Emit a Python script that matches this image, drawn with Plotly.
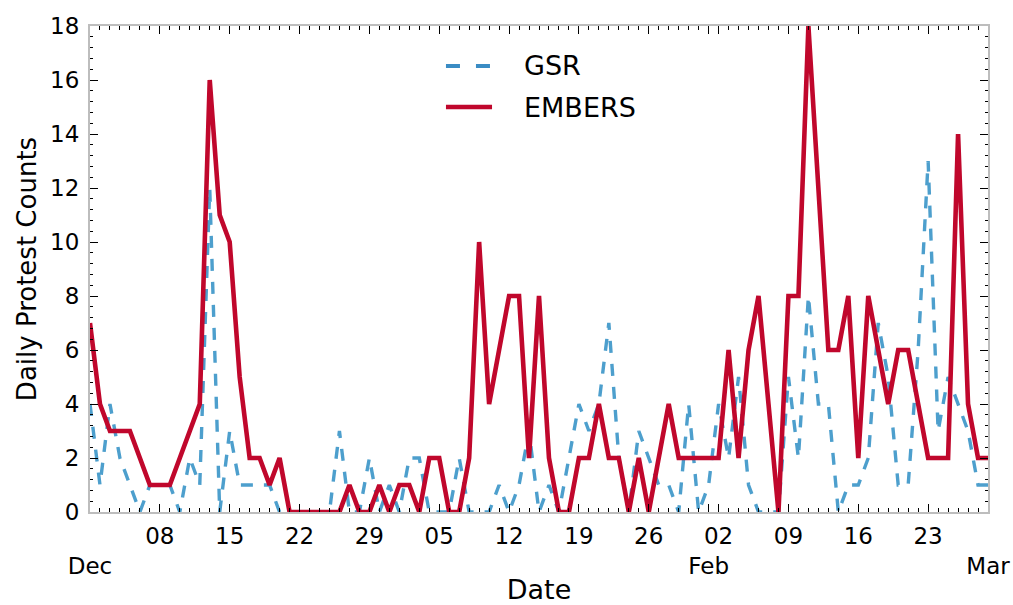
import pandas as pd
import plotly.graph_objects as go

dates = pd.date_range("2013-12-01", "2014-03-01", freq="D")

gsr = [4, 1, 4, 2, 1, 0, 1, 1, 1, 0, 2, 1, 12, 0, 3, 1, 1, 1, 1, 0,
       0, 0, 0, 0, 0, 3, 0, 0, 2, 0, 1, 0, 2, 2, 0, 0, 0, 2, 0, 0,
       0, 1, 0, 1, 3, 0, 1, 0, 2, 4, 3, 4, 7, 2, 0, 3, 2, 1, 1, 0,
       4, 0, 1, 4, 2, 5, 1, 0, 0, 0, 5, 2, 8, 4, 4, 0, 1, 1, 2, 7,
       5, 1, 1, 6, 13, 3, 5, 4, 3, 1, 1]

embers = [7, 4, 3, 3, 3, 2, 1, 1, 1, 2, 3, 4, 16, 11, 10, 5, 2, 2, 1, 2,
          0, 0, 0, 0, 0, 0, 1, 0, 0, 1, 0, 1, 1, 0, 2, 2, 0, 0, 2, 10,
          4, 6, 8, 8, 2, 8, 2, 0, 0, 2, 2, 4, 2, 2, 0, 2, 0, 2, 4, 2,
          2, 2, 2, 2, 6, 2, 6, 8, 4, 0, 8, 8, 18, 12, 6, 6, 8, 2, 8, 6,
          4, 6, 6, 4, 2, 2, 2, 14, 4, 2, 2]

week_ticks = ["2013-12-08", "2013-12-15", "2013-12-22", "2013-12-29",
              "2014-01-05", "2014-01-12", "2014-01-19", "2014-01-26",
              "2014-02-02", "2014-02-09", "2014-02-16", "2014-02-23"]
week_labels = ["08", "15", "22", "29", "05", "12", "19", "26",
               "02", "09", "16", "23"]
month_ticks = ["2013-12-01", "2014-02-01", "2014-03-01"]
month_labels = ["Dec", "Feb", "Mar"]
y_ticks = [0, 2, 4, 6, 8, 10, 12, 14, 16, 18]
series_names = ["GSR", "EMBERS"]

FONT = "DejaVu Sans"
BLUE = "#4d9fcd"
RED = "#c0072c"
GSR_DASH = "12px,11px"

fig = go.Figure()
fig.add_trace(go.Scatter(x=dates, y=gsr, mode="lines", name=series_names[0],
                         line=dict(color=BLUE, width=3.4, dash=GSR_DASH)))
fig.add_trace(go.Scatter(x=dates, y=embers, mode="lines", name=series_names[1],
                         line=dict(color=RED, width=4.6)))

tickvals = month_ticks + week_ticks
ticktext = ["<br>" + m for m in month_labels] + week_labels

# legend drawn manually (matplotlib-like long handles)
leg_x0, leg_x1, leg_tx = 0.3964, 0.4477, 0.4811
leg_y = [0.9177, 0.8333]
shapes = [
    dict(type="line", xref="paper", yref="paper", x0=leg_x0, x1=leg_x1,
         y0=leg_y[0], y1=leg_y[0], line=dict(color="#3a8cc4", width=4, dash="14px,16px")),
    dict(type="line", xref="paper", yref="paper", x0=leg_x0, x1=leg_x1,
         y0=leg_y[1], y1=leg_y[1], line=dict(color=RED, width=4.5)),
]
annotations = [
    dict(xref="paper", yref="paper", x=leg_tx, y=yy, text=t, showarrow=False,
         xanchor="left", yanchor="middle", font=dict(size=27, family=FONT, color="black"))
    for yy, t in zip(leg_y, series_names)
]

fig.update_layout(
    width=1013, height=605,
    margin=dict(l=90, r=25, t=26, b=93),
    paper_bgcolor="white", plot_bgcolor="white",
    font=dict(family=FONT, size=23, color="black"),
    showlegend=False,
    shapes=shapes, annotations=annotations,
)
fig.update_xaxes(
    type="date", automargin=False,
    range=["2013-12-01", "2014-03-01"],
    tickmode="array", tickvals=tickvals, ticktext=ticktext, tickangle=0,
    ticks="inside", ticklen=8, tickwidth=1, tickcolor="black",
    showline=True, linecolor="#bdbdbd", linewidth=2, mirror="allticks",
    showgrid=False, zeroline=False,
    tickfont=dict(size=23, family=FONT), ticklabelstandoff=2,
    title=dict(text="Date", font=dict(size=27, family=FONT), standoff=14),
    minor=dict(ticks="inside", ticklen=4, tickcolor="black", tickwidth=1,
               dtick=86400000, tick0="2013-12-01", showgrid=False),
)
fig.update_yaxes(
    range=[0, 18], automargin=False,
    tickmode="array", tickvals=y_ticks,
    ticks="inside", ticklen=8, tickwidth=1, tickcolor="black",
    showline=True, linecolor="#bdbdbd", linewidth=2, mirror="allticks",
    showgrid=False, zeroline=False,
    tickfont=dict(size=23, family=FONT), ticklabelstandoff=4,
    title=dict(text="Daily Protest Counts", font=dict(size=26, family=FONT), standoff=6),
    minor=dict(ticks="inside", ticklen=3, tickcolor="black", tickwidth=1,
               dtick=0.4, tick0=0, showgrid=False),
)

# remove the page's default body margin / scrollbars so the figure fills the window
fig.write_html("out.html",
               config={"displayModeBar": False},
               post_script="document.body.style.margin='0';"
                           "document.body.style.overflow='hidden';")
